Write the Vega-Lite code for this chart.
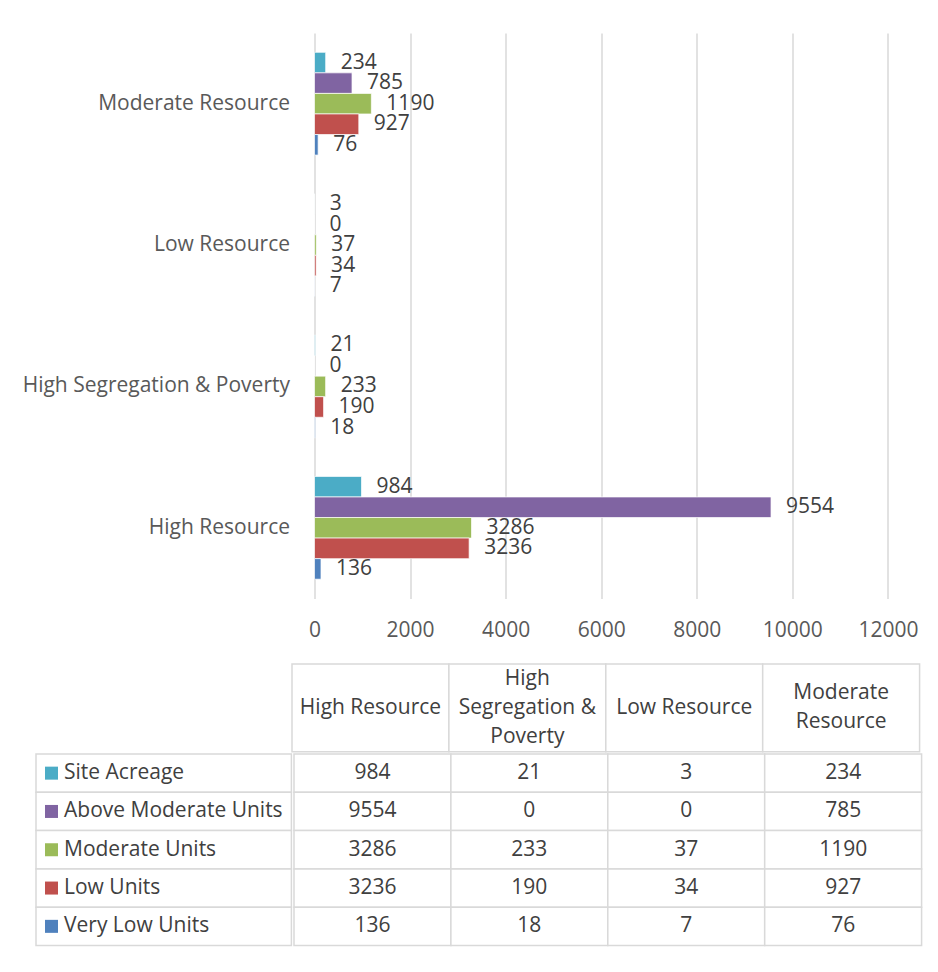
{
  "$schema": "https://vega.github.io/schema/vega-lite/v6.json",
  "padding": {"left": 10, "top": 33, "right": 5, "bottom": 5},
  "background": "white",
  "config": {
    "view": {"stroke": null},
    "font": "Open Sans",
    "text": {"font": "Open Sans"},
    "axis": {"labelFont": "Open Sans"}
  },
  "datasets": {
    "d": [
      {"category": "High Resource", "series": "Site Acreage", "value": 984},
      {"category": "High Resource", "series": "Above Moderate Units", "value": 9554},
      {"category": "High Resource", "series": "Moderate Units", "value": 3286},
      {"category": "High Resource", "series": "Low Units", "value": 3236},
      {"category": "High Resource", "series": "Very Low Units", "value": 136},
      {"category": "High Segregation & Poverty", "series": "Site Acreage", "value": 21},
      {"category": "High Segregation & Poverty", "series": "Above Moderate Units", "value": 0},
      {"category": "High Segregation & Poverty", "series": "Moderate Units", "value": 233},
      {"category": "High Segregation & Poverty", "series": "Low Units", "value": 190},
      {"category": "High Segregation & Poverty", "series": "Very Low Units", "value": 18},
      {"category": "Low Resource", "series": "Site Acreage", "value": 3},
      {"category": "Low Resource", "series": "Above Moderate Units", "value": 0},
      {"category": "Low Resource", "series": "Moderate Units", "value": 37},
      {"category": "Low Resource", "series": "Low Units", "value": 34},
      {"category": "Low Resource", "series": "Very Low Units", "value": 7},
      {"category": "Moderate Resource", "series": "Site Acreage", "value": 234},
      {"category": "Moderate Resource", "series": "Above Moderate Units", "value": 785},
      {"category": "Moderate Resource", "series": "Moderate Units", "value": 1190},
      {"category": "Moderate Resource", "series": "Low Units", "value": 927},
      {"category": "Moderate Resource", "series": "Very Low Units", "value": 76}
    ],
    "cols": [
      {"category": "High Resource", "header": "High Resource", "lines": 1},
      {"category": "High Segregation & Poverty", "header": "High\nSegregation &\nPoverty", "lines": 3},
      {"category": "Low Resource", "header": "Low Resource", "lines": 1},
      {"category": "Moderate Resource", "header": "Moderate\nResource", "lines": 2}
    ],
    "series": [
      {"series": "Site Acreage"},
      {"series": "Above Moderate Units"},
      {"series": "Moderate Units"},
      {"series": "Low Units"},
      {"series": "Very Low Units"}
    ]
  },
  "spacing": 22,
  "vconcat": [
    {
      "spacing": 17.5,
      "hconcat": [
        {
          "width": 280,
          "height": 565.5,
          "data": {"name": "cols"},
          "mark": {"type": "text", "align": "right", "baseline": "middle", "fontSize": 21, "color": "#595959"},
          "encoding": {
            "y": {
              "field": "category", "type": "nominal",
              "sort": ["Moderate Resource", "Low Resource", "High Segregation & Poverty", "High Resource"],
              "scale": {"paddingInner": 0.273, "paddingOuter": 0.1365},
              "axis": null
            },
            "x": {"value": "width"},
            "text": {"field": "category"}
          }
        },
        {
          "width": 573.4,
          "height": 565.5,
          "data": {"name": "d"},
          "encoding": {
            "y": {
              "field": "category", "type": "nominal",
              "sort": ["Moderate Resource", "Low Resource", "High Segregation & Poverty", "High Resource"],
              "scale": {"paddingInner": 0.273, "paddingOuter": 0.1365},
              "axis": null
            },
            "yOffset": {
              "field": "series", "type": "nominal",
              "sort": ["Site Acreage", "Above Moderate Units", "Moderate Units", "Low Units", "Very Low Units"],
              "scale": {"paddingInner": 0, "paddingOuter": 0}
            },
            "x": {
              "field": "value", "type": "quantitative",
              "scale": {"domain": [0, 12000], "nice": false},
              "axis": {
                "values": [0, 2000, 4000, 6000, 8000, 10000, 12000],
                "format": "d",
                "grid": true, "gridColor": "#d9d9d9", "gridWidth": 1.5,
                "domain": false, "ticks": false,
                "labelPadding": 21, "labelFontSize": 21, "labelColor": "#595959",
                "labelFlush": false, "labelOverlap": false,
                "title": null
              }
            }
          },
          "layer": [
            {
              "mark": {"type": "bar", "stroke": "white", "strokeWidth": 1, "strokeOpacity": 0.7},
              "encoding": {
                "color": {
                  "field": "series", "type": "nominal",
                  "scale": {
                    "domain": ["Site Acreage", "Above Moderate Units", "Moderate Units", "Low Units", "Very Low Units"],
                    "range": ["#4BACC6", "#8064A2", "#9BBB59", "#C0504D", "#4F81BD"]
                  },
                  "legend": null
                }
              }
            },
            {
              "mark": {"type": "text", "align": "left", "baseline": "middle", "dx": 15, "fontSize": 21, "color": "#404040"},
              "encoding": {"text": {"field": "value", "type": "quantitative", "format": "d"}}
            }
          ]
        }
      ]
    },
    {
      "spacing": 0,
      "vconcat": [
        {
          "spacing": 0,
          "hconcat": [
            {
              "width": 280.4,
              "height": 87.7,
              "data": {"values": [{}]},
              "mark": {"type": "text"},
              "encoding": {"text": {"value": ""}}
            },
            {
              "width": 627.6,
              "height": 87.7,
              "data": {"name": "cols"},
              "encoding": {
                "x": {
                  "field": "category", "type": "nominal",
                  "sort": ["High Resource", "High Segregation & Poverty", "Low Resource", "Moderate Resource"],
                  "scale": {"paddingInner": 0, "paddingOuter": 0},
                  "axis": null
                }
              },
              "layer": [
                {"mark": {"type": "rect", "fill": "white", "stroke": "#d9d9d9", "strokeWidth": 1.5}},
                {
                  "transform": [{"filter": "datum.lines == 1"}],
                  "mark": {"type": "text", "align": "center", "baseline": "middle", "fontSize": 21, "color": "#404040", "lineBreak": "\n", "lineHeight": 29.3},
                  "encoding": {"text": {"field": "header"}}
                },
                {
                  "transform": [{"filter": "datum.lines == 2"}],
                  "mark": {"type": "text", "align": "center", "baseline": "middle", "dy": -14.65, "fontSize": 21, "color": "#404040", "lineBreak": "\n", "lineHeight": 29.3},
                  "encoding": {"text": {"field": "header"}}
                },
                {
                  "transform": [{"filter": "datum.lines == 3"}],
                  "mark": {"type": "text", "align": "center", "baseline": "middle", "dy": -29.3, "fontSize": 21, "color": "#404040", "lineBreak": "\n", "lineHeight": 29.3},
                  "encoding": {"text": {"field": "header"}}
                }
              ]
            }
          ]
        },
        {
          "spacing": 0,
          "hconcat": [
            {
              "width": 25,
              "height": 191.5,
              "data": {"values": [{}]},
              "mark": {"type": "text"},
              "encoding": {"text": {"value": ""}}
            },
            {
              "width": 255.4,
              "height": 191.5,
              "data": {"name": "series"},
              "encoding": {
                "y": {
                  "field": "series", "type": "nominal",
                  "sort": ["Site Acreage", "Above Moderate Units", "Moderate Units", "Low Units", "Very Low Units"],
                  "scale": {"paddingInner": 0, "paddingOuter": 0},
                  "axis": null
                }
              },
              "layer": [
                {"mark": {"type": "rect", "fill": "white", "stroke": "#d9d9d9", "strokeWidth": 1.5}},
                {
                  "mark": {"type": "square", "size": 169, "filled": true, "opacity": 1},
                  "encoding": {
                    "x": {"value": 15.5},
                    "color": {"field": "series", "type": "nominal", "legend": null}
                  }
                },
                {
                  "mark": {"type": "text", "align": "left", "baseline": "middle", "fontSize": 21, "color": "#404040"},
                  "encoding": {"x": {"value": 28}, "text": {"field": "series"}}
                }
              ]
            },
            {
              "width": 627.6,
              "height": 191.5,
              "data": {"name": "d"},
              "encoding": {
                "x": {
                  "field": "category", "type": "nominal",
                  "sort": ["High Resource", "High Segregation & Poverty", "Low Resource", "Moderate Resource"],
                  "scale": {"paddingInner": 0, "paddingOuter": 0},
                  "axis": null
                },
                "y": {
                  "field": "series", "type": "nominal",
                  "sort": ["Site Acreage", "Above Moderate Units", "Moderate Units", "Low Units", "Very Low Units"],
                  "scale": {"paddingInner": 0, "paddingOuter": 0},
                  "axis": null
                }
              },
              "layer": [
                {"mark": {"type": "rect", "fill": "white", "stroke": "#d9d9d9", "strokeWidth": 1.5}},
                {
                  "mark": {"type": "text", "align": "center", "baseline": "middle", "fontSize": 21, "color": "#404040"},
                  "encoding": {"text": {"field": "value", "type": "quantitative", "format": "d"}}
                }
              ]
            }
          ]
        }
      ]
    }
  ]
}
